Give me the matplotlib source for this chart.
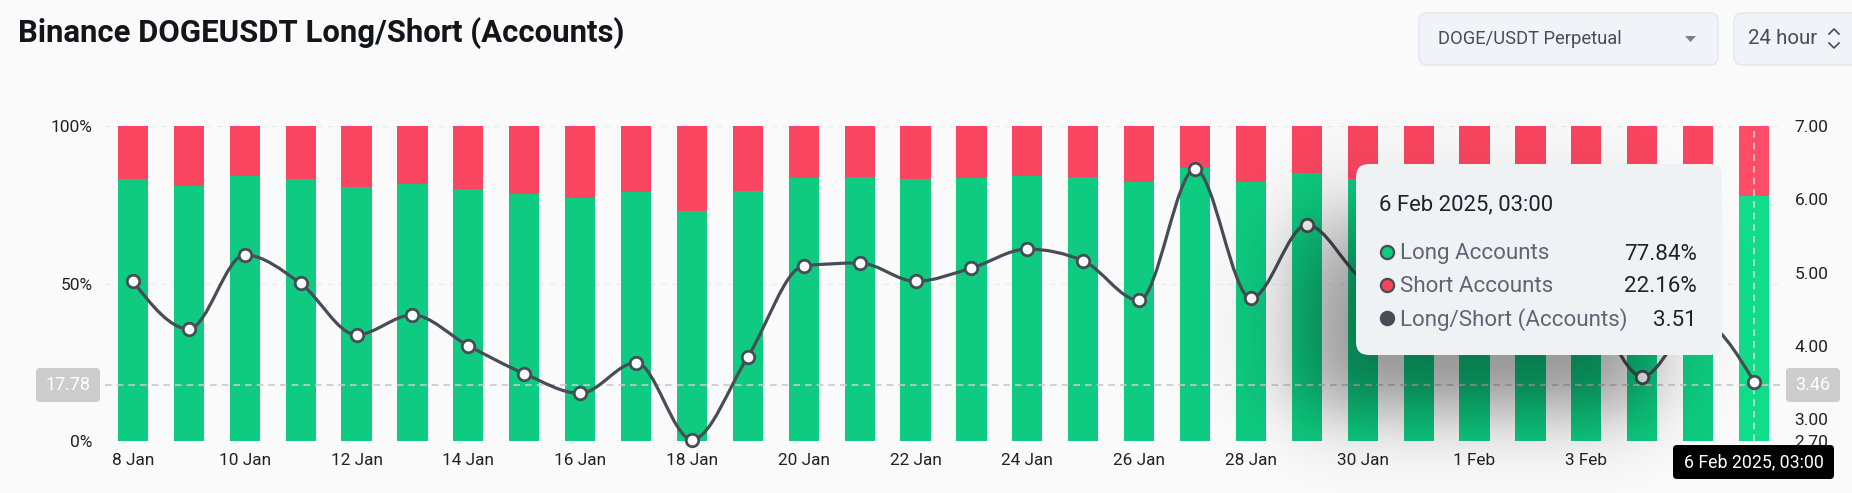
import numpy as np
from matplotlib import pyplot as plt
from matplotlib.patches import FancyBboxPatch, PathPatch, Polygon
from matplotlib.path import Path

plt.rcParams['font.family'] = ['Roboto', 'DejaVu Sans']

dates = ['8 Jan', '9 Jan', '10 Jan', '11 Jan', '12 Jan', '13 Jan', '14 Jan', '15 Jan', '16 Jan', '17 Jan',
         '18 Jan', '19 Jan', '20 Jan', '21 Jan', '22 Jan', '23 Jan', '24 Jan', '25 Jan', '26 Jan', '27 Jan',
         '28 Jan', '29 Jan', '30 Jan', '31 Jan', '1 Feb', '2 Feb', '3 Feb', '4 Feb', '5 Feb', '6 Feb']
long_pct = [83.1, 80.9, 84.0, 83.1, 80.5, 81.6, 80.0, 78.4, 77.0, 79.0,
            73.1, 79.4, 83.6, 83.7, 83.1, 83.5, 84.2, 83.7, 82.2, 86.6,
            82.3, 85.0, 83.3, 82.0, 82.5, 82.8, 82.2, 78.2, 81.0, 77.84]
short_pct = [16.9, 19.1, 16.0, 16.9, 19.5, 18.4, 20.0, 21.6, 23.0, 21.0,
             26.9, 20.6, 16.4, 16.3, 16.9, 16.5, 15.8, 16.3, 17.8, 13.4,
             17.7, 15.0, 16.7, 18.0, 17.5, 17.2, 17.8, 21.8, 19.0, 22.16]
ratio = [4.88, 4.23, 5.24, 4.85, 4.15, 4.42, 4.00, 3.62, 3.35, 3.77,
         2.72, 3.85, 5.09, 5.13, 4.88, 5.06, 5.32, 5.16, 4.62, 6.41,
         4.65, 5.65, 4.90, 4.60, 4.75, 4.85, 4.60, 3.58, 4.35, 3.51]
left_ticks = [0, 50, 100]
left_labels = ['0%', '50%', '100%']
right_ticks = [2.7, 3, 4, 5, 6, 7]
right_labels = ['2.70', '3.00', '4.00', '5.00', '6.00', '7.00']
cross_left = 17.78
cross_right = 3.46
tip_date = '6 Feb 2025, 03:00'
tip_rows = [('Long Accounts', '77.84%', '#0ECB81'),
            ('Short Accounts', '22.16%', '#F6465D'),
            ('Long/Short (Accounts)', '3.51', '#474D57')]

W, H = 1852, 493
BG = '#FAFAFA'
GREEN = '#0ECB81'
RED = '#FA4660'
LINE = '#474D57'
TEXT = '#1E2329'

fig = plt.figure(figsize=(W / 100, H / 100), dpi=100, facecolor=BG)
ax = fig.add_axes([105 / W, 1 - 441 / H, (1782 - 105) / W, 315 / H])
ax.set_facecolor('none')
x = np.arange(len(dates))

colors_long = [GREEN] * (len(x) - 1) + ['#10DD8A']
colors_short = [RED] * (len(x) - 1) + ['#FF4D68']
ax.bar(x, long_pct, width=0.54, color=colors_long, zorder=2)
ax.bar(x, short_pct, width=0.54, bottom=long_pct, color=colors_short, zorder=2)
ax.set_xlim(-0.5, 29.5)
ax.set_ylim(0, 100)
ax.set_yticks(left_ticks, left_labels)
ax.set_xticks(x[::2][:-1], dates[::2][:-1])
ax.tick_params(axis='y', length=0, pad=9, labelsize=12.5, labelcolor=TEXT)
ax.tick_params(axis='x', length=0, pad=8.5, labelsize=12.4, labelcolor=TEXT)
ax.grid(axis='y', color='#EAECEF', lw=1, ls=(0, (4, 4)), zorder=1)
ax.set_axisbelow(True)
for s in ax.spines.values():
    s.set_visible(False)

ax.axhline(cross_left, color='#C9C9C9', lw=1.2, ls=(0, (4, 3)), zorder=3)
ax.axvline(x[-1], color='#D5D9DC', lw=1.2, ls=(0, (4, 3)), zorder=3)

ax2 = ax.twinx()
ax2.set_facecolor('none')
ax2.set_ylim(2.7, 7)
ax2.set_yticks(right_ticks, right_labels)
ax2.tick_params(axis='y', length=0, pad=9, labelsize=12.5, labelcolor=TEXT)
for s in ax2.spines.values():
    s.set_visible(False)

# monotone curve through the points
y_line = np.array(ratio)
slopes = np.diff(y_line)
tangents = np.zeros(len(y_line))
for i in range(1, len(y_line) - 1):
    s0, s1 = slopes[i - 1], slopes[i]
    tangents[i] = (np.sign(s0) + np.sign(s1)) * min(abs(s0), abs(s1), 0.25 * abs(s0 + s1))
tangents[0] = (3 * slopes[0] - tangents[1]) / 2
tangents[-1] = (3 * slopes[-1] - tangents[-2]) / 2
verts = [(x[0], y_line[0])]
codes = [Path.MOVETO]
for i in range(len(x) - 1):
    verts += [(x[i] + 1 / 3, y_line[i] + tangents[i] / 3),
              (x[i + 1] - 1 / 3, y_line[i + 1] - tangents[i + 1] / 3),
              (x[i + 1], y_line[i + 1])]
    codes += [Path.CURVE4] * 3
ax2.add_patch(PathPatch(Path(verts, codes), fc='none', ec=LINE, lw=2.3, zorder=4, clip_on=False))
ax2.plot(x, ratio, ls='none', marker='o', ms=9, mfc='white', mec=LINE, mew=2, zorder=5, clip_on=False)

# overlay in pixel coords for the page chrome and tooltip
ov = fig.add_axes([0, 0, 1, 1], zorder=10)
ov.patch.set_alpha(0)
ov.axis('off')

xx, yy = np.meshgrid(np.arange(W), np.arange(H))
fx = 0.5 * (np.tanh((xx - 1300) / 50) - np.tanh((xx - 1650) / 45))
fy = 0.5 * (np.tanh((yy - 225) / 55) - np.tanh((yy - 410) / 42))
shadow = np.zeros((H, W, 4))
shadow[..., 3] = 0.42 * fx * fy
ov.imshow(shadow, extent=(0, W, H, 0), aspect='auto', interpolation='bilinear', zorder=1)
ov.set_xlim(0, W)
ov.set_ylim(H, 0)


def box(x0, y0, x1, y1, color, r=6, ec='none', z=2):
    ov.add_patch(FancyBboxPatch((x0 + r, y0 + r), x1 - x0 - 2 * r, y1 - y0 - 2 * r,
                                boxstyle=f'round,pad={r},rounding_size={r}',
                                fc=color, ec=ec, lw=1, zorder=z, clip_on=False))


ov.text(18, 33, 'Binance DOGEUSDT Long/Short (Accounts)', fontsize=22.4, fontweight='bold',
        color='#14151A', va='center', ha='left')

# selectors
box(1419, 13, 1718, 65, '#F0F4F8', r=8, ec='#E3E8EE')
ov.text(1438, 39, 'DOGE/USDT Perpetual', fontsize=13.2, color='#474D57', va='center')
ov.add_patch(Polygon([(1685, 36), (1696, 36), (1690.5, 42)], fc='#76808F', zorder=3))
box(1734, 13, 1870, 65, '#F0F4F8', r=8, ec='#E3E8EE')
ov.text(1748, 39, '24 hour', fontsize=14.8, color='#474D57', va='center')
ov.plot([1829, 1834, 1839], [34, 29, 34], color='#474D57', lw=1.2, zorder=3)
ov.plot([1829, 1834, 1839], [43, 48, 43], color='#474D57', lw=1.2, zorder=3)

# crosshair badges
box(36, 368, 100, 402, '#CDCDCD', r=4)
ov.text(68, 385, f'{cross_left:.2f}', fontsize=13, color='white', ha='center', va='center', zorder=3)
box(1786, 368, 1840, 402, '#CDCDCD', r=4)
ov.text(1813, 385, f'{cross_right:.2f}', fontsize=13, color='white', ha='center', va='center', zorder=3)
box(1673, 445, 1834, 479, 'black', r=4)
ov.text(1753.5, 462, tip_date, fontsize=12.8, color='white', ha='center', va='center', zorder=3)

# tooltip
box(1356, 164, 1722, 355, '#EFF2F5', r=13, z=4)
ov.text(1379, 205, tip_date, fontsize=15.9, color=TEXT, va='center', zorder=5)
for (name, val, col), y in zip(tip_rows, [252, 285, 318]):
    ov.plot([1386.7], [y], marker='o', ms=9.5, mfc=col, mec=LINE, mew=1.6, zorder=5)
    ov.text(1400, y + 2, name, fontsize=16.1, color='#5E6673', va='center', zorder=5)
    ov.text(1697, y + 2, val, fontsize=16.1, color=TEXT, va='center', ha='right', zorder=5)

fig.savefig('out.png', dpi=100, facecolor=BG)
